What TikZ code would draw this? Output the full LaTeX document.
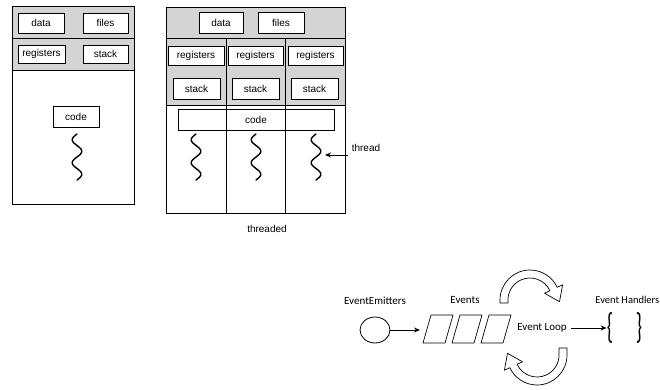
\documentclass[tikz,border=0pt]{standalone}
\usepackage{fontspec}
\setmainfont{Liberation Sans}
\newfontfamily\calib{Carlito}
\usetikzlibrary{arrows.meta,calc,shapes.geometric}
\newcommand\mysquig[2]{\draw[line width=1.4pt,line cap=round] plot[domain=0:46,samples=60,smooth] ({#1-4.8*sin(\x/23*360)},{#2+\x});}
\begin{document}
\begin{tikzpicture}[x=1pt,y=-1pt,
  bx/.style 2 args={draw,line width=0.9pt,inner sep=0pt,minimum width=#1pt,minimum height=#2pt,font=\fontsize{10}{12}\selectfont},
  lbl/.style={inner sep=0pt,font=\fontsize{10}{12}\selectfont},
  blbl/.style={inner sep=0pt,font=\calib\fontsize{11}{13}\selectfont},
  brc/.style={inner sep=0pt,font=\calib\fontsize{20}{20}\selectfont},
  frame/.style={line width=0.7pt},
  arr/.style={line width=0.9pt,-{Stealth[length=6pt,width=5pt]}},
  hollow/.style={draw,line width=0.7pt,fill=white,line join=round},
  graybg/.style={fill=black!17}]
\useasboundingbox[fill=white] (0,0) rectangle (660,389);

% ---------- single-threaded process ----------
\fill[graybg] (12,6) rectangle (134,70);
\draw[frame] (12,6) rectangle (134,204);
\draw[frame] (12,38) -- (134,38);
\draw[frame] (12,70) -- (134,70);
\node[bx={46}{20},fill=white] (sdata) at (41,23) {data};
\node[bx={45}{20},fill=white] (sfiles) at (105.5,23) {files};
\node[bx={47}{18},fill=white] (sregs) at (41.5,54) {registers};
\node[bx={45}{18},fill=white] (sstack) at (105.5,54) {stack};
\node[bx={46}{21}] (scode) at (76,116.5) {code};
\mysquig{77}{134}

% ---------- multithreaded process ----------
\fill[graybg] (166,7) rectangle (345,105);
\draw[frame] (166,7) rectangle (345,213);
\draw[frame] (166,38) -- (345,38);
\draw[frame] (166,105) -- (345,105);
\node[bx={44}{21},fill=white] (tdata) at (221,22.5) {data};
\node[bx={46}{21},fill=white] (tfiles) at (281,22.5) {files};
\node[bx={56}{19},fill=white] (treg1) at (196,55.5) {registers};
\node[bx={55}{19},fill=white] (treg2) at (255.5,55.5) {registers};
\node[bx={55}{19},fill=white] (treg3) at (315.5,55.5) {registers};
\node[bx={47}{21},fill=white] (tst1) at (196.5,88.5) {stack};
\node[bx={47}{21},fill=white] (tst2) at (255.5,88.5) {stack};
\node[bx={47}{21},fill=white] (tst3) at (314.5,88.5) {stack};
\node[bx={156}{21}] (tcode) at (256,119.5) {code};
\draw[frame] (226,38) -- (226,213);
\draw[frame] (285,38) -- (285,213);
\mysquig{196}{134}
\mysquig{256}{134}
\mysquig{316}{134}
\node[lbl] (thr) at (366,148) {thread};
\coordinate (thrfrom) at (348,155);
\coordinate (thrto) at (325,155);
\draw[arr] (thrfrom) -- (thrto);
\node[lbl] (threaded) at (267,229) {threaded};

% ---------- event loop ----------
\node[blbl] (emtxt) at (375,301) {EventEmitters};
\node[blbl] (evtxt) at (465,300) {Events};
\node[blbl,font=\calib\fontsize{10.5}{12}\selectfont,anchor=east] (hdtxt) at (659.5,300) {Event Handlers};
\node[draw,ellipse,line width=0.8pt,minimum width=30pt,minimum height=26pt,inner sep=0pt] (emit) at (375,330) {};
\coordinate (evin) at (420,330);
\draw[arr] (emit) -- (evin);
\foreach \s in {0,29,58}{
  \draw[line width=0.7pt,line join=round] (423+\s,343) -- (431+\s,315) -- (453+\s,315) -- (445+\s,343) -- cycle;
}
\node[blbl,inner sep=4pt] (loop) at (542,328) {Event Loop};
\node[brc] (lb) at (610,328) {\scalebox{1}[1.8]{\{}};
\node[brc] (rb) at (639,328) {\scalebox{1}[1.8]{\}}};
\draw[arr] (loop.east) -- (lb.west);
% hollow circular arrows
\path[hollow] (500,303) -- (500,300) arc[start angle=180,end angle=335,radius=30]
  -- (562.6,284.8) -- (559.5,301.7) -- (544.5,293.2) -- (549.9,290.7)
  arc[start angle=335,end angle=180,radius=22] -- (508,303) -- cycle;
\path[hollow] (567,348) -- (567,355) arc[start angle=0,end angle=155,radius=30]
  -- (504.4,370.2) -- (507.5,353.3) -- (522.5,361.8) -- (517.1,364.3)
  arc[start angle=155,end angle=0,radius=22] -- (559,348) -- cycle;
\end{tikzpicture}
\end{document}
